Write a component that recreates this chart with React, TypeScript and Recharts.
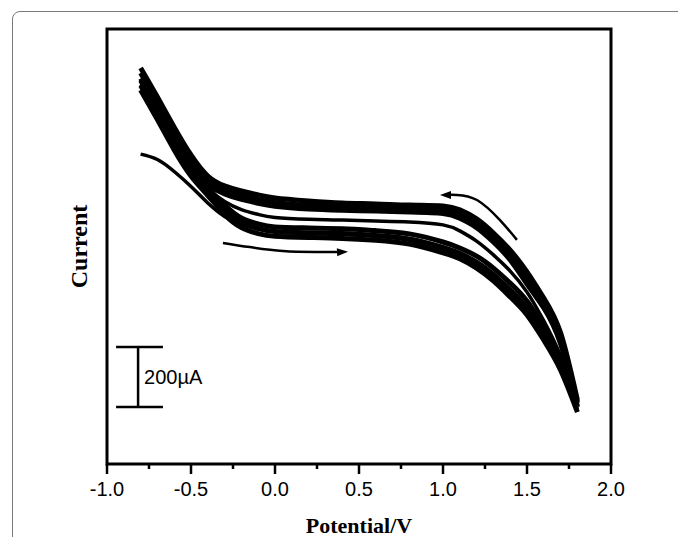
import React from "react";
import { LineChart, Line, XAxis, YAxis, ReferenceLine, ReferenceArea, Label } from "recharts";

// potential grid (V) shared by every scan branch
const potentials = [-0.8, -0.7, -0.6, -0.5, -0.4, -0.3, -0.2, -0.1, 0.0, 0.2, 0.4, 0.6, 0.8, 1.0, 1.1, 1.2, 1.3, 1.4, 1.5, 1.6, 1.7, 1.8];

// reverse scans (upper band), current in µA
const reverse1 = [420, 323, 223, 130, 60, 27, 10, -3, -13, -23, -30, -33, -37, -40, -53, -83, -130, -187, -260, -347, -463, -687];
const reverse2 = [403, 307, 207, 113, 47, 13, -5, -18, -28, -38, -42, -45, -48, -52, -67, -97, -143, -203, -280, -362, -480, -697];
const reverse3 = [385, 290, 190, 97, 33, 0, -18, -31, -41, -50, -54, -57, -60, -65, -81, -112, -160, -220, -300, -380, -500, -710];
const reverseMid = [365, 268, 170, 80, 17, -25, -52, -68, -78, -84, -87, -90, -93, -103, -123, -157, -203, -257, -327, -423, -540, -697];

// forward scans (lower band)
const forward1 = [378, 280, 178, 85, 20, -37, -80, -100, -110, -113, -116, -122, -133, -160, -180, -207, -247, -297, -357, -443, -547, -693];
const forward2 = [362, 264, 162, 72, 8, -52, -95, -115, -125, -129, -132, -138, -150, -178, -198, -227, -268, -320, -380, -463, -567, -707];
const forward3 = [347, 248, 147, 60, -5, -68, -112, -132, -141, -145, -148, -154, -167, -196, -216, -247, -290, -343, -403, -487, -587, -727];
const firstScan = [133, 115, 75, 25, -30, -75, -102, -116, -125, -131, -135, -141, -154, -184, -204, -234, -277, -328, -388, -470, -575, -717];

// scan direction arrows
const arrowLowX = [-0.31, -0.149, 0.048, 0.238, 0.405];
const arrowLowY = [-163, -177, -190, -193, -193];
const arrowHighX = [1.012, 1.083, 1.202, 1.339, 1.44];
const arrowHighY = [-3, -3, -20, -87, -153];

const xTicks = [-1, -0.75, -0.5, -0.25, 0, 0.25, 0.5, 0.75, 1, 1.25, 1.5, 1.75, 2];

// 200 µA scale bar
const barX = -0.815;
const barCapX = [-0.946, -0.667];
const barY = [-510, -710];

const bandCurves = [reverse1, reverse2, reverse3, forward1, forward2, forward3];
const thinCurves = [reverseMid, firstScan];

const toRows = (xs: number[], ys: number[]) => xs.map((x, i) => ({ x, y: ys[i] }));

const SANS = "'Liberation Sans', Arial, sans-serif";
const SERIF = "'Liberation Serif', 'Times New Roman', serif";

function PotentialTick(props: any) {
  const { x, y, payload } = props;
  const v = payload.value as number;
  const major = Math.abs(v * 2 - Math.round(v * 2)) < 1e-6;
  return (
    <g>
      <line x1={x} y1={y} x2={x} y2={y + (major ? 10 : 5)} stroke="#000" strokeWidth={2.5} />
      {major && (
        <text x={x} y={y + 32} textAnchor="middle" fontFamily={SANS} fontSize={20} fill="#000">
          {v.toFixed(1)}
        </text>
      )}
    </g>
  );
}

function arrowHead(headIndex: number, angle: number) {
  return (p: any) => {
    if (p.index !== headIndex) return <g key={p.index} />;
    const { cx, cy } = p;
    return (
      <polygon
        key={p.index}
        points={`${cx + 5},${cy} ${cx - 6},${cy - 4} ${cx - 6},${cy + 4}`}
        transform={`rotate(${angle} ${cx} ${cy})`}
        fill="#000"
      />
    );
  };
}

export default function App() {
  return (
    <div style={{ position: "absolute", left: 0, top: 0, width: 678, height: 537, overflow: "hidden", background: "#fff" }}>
      <div
        style={{
          position: "absolute",
          left: 12,
          top: 11,
          width: 700,
          height: 600,
          border: "1px solid #7a7a7a",
          borderTopLeftRadius: 8,
        }}
      />
      <LineChart
        width={678}
        height={537}
        margin={{ top: 29, right: 67, bottom: 0, left: 49 }}
        style={{ position: "absolute", left: 0, top: 0 }}
      >
        <XAxis
          type="number"
          dataKey="x"
          domain={[-1, 2]}
          ticks={xTicks}
          interval={0}
          axisLine={false}
          tickLine={false}
          tickSize={0}
          tickMargin={0}
          tick={<PotentialTick />}
          height={73}
          allowDataOverflow
        >
          <Label
            value="Potential/V"
            position="insideBottom"
            offset={4}
            fill="#000"
            fontFamily={SERIF}
            fontWeight="bold"
            fontSize={22}
          />
        </XAxis>
        <YAxis
          type="number"
          domain={[-900, 550]}
          width={58}
          tick={false}
          tickLine={false}
          axisLine={false}
          allowDataOverflow
        >
          <Label
            value="Current"
            angle={-90}
            position="center"
            fill="#000"
            fontFamily={SERIF}
            fontWeight="bold"
            fontSize={24}
          />
        </YAxis>
        <ReferenceArea x1={-1} x2={2} y1={-900} y2={550} fill="none" stroke="#000" strokeWidth={3} />
        {bandCurves.map((c, i) => (
          <Line
            key={`b${i}`}
            data={toRows(potentials, c)}
            dataKey="y"
            type="natural"
            stroke="#000"
            strokeWidth={5}
            dot={false}
            activeDot={false}
            isAnimationActive={false}
          />
        ))}
        {thinCurves.map((c, i) => (
          <Line
            key={`t${i}`}
            data={toRows(potentials, c)}
            dataKey="y"
            type="natural"
            stroke="#000"
            strokeWidth={3.5}
            dot={false}
            activeDot={false}
            isAnimationActive={false}
          />
        ))}
        <Line
          data={toRows(arrowLowX, arrowLowY)}
          dataKey="y"
          type="natural"
          stroke="#000"
          strokeWidth={2.5}
          dot={arrowHead(arrowLowX.length - 1, -3)}
          activeDot={false}
          isAnimationActive={false}
        />
        <Line
          data={toRows(arrowHighX, arrowHighY)}
          dataKey="y"
          type="natural"
          stroke="#000"
          strokeWidth={2.5}
          dot={arrowHead(0, 180)}
          activeDot={false}
          isAnimationActive={false}
        />
        <ReferenceLine
          segment={[{ x: barX, y: barY[0] }, { x: barX, y: barY[1] }]}
          stroke="#000"
          strokeWidth={2.5}
        >
          <Label value="200µA" position="right" offset={6} fill="#000" fontFamily={SANS} fontSize={20} />
        </ReferenceLine>
        {barY.map((y) => (
          <ReferenceLine
            key={y}
            segment={[{ x: barCapX[0], y }, { x: barCapX[1], y }]}
            stroke="#000"
            strokeWidth={2.5}
          />
        ))}
      </LineChart>
    </div>
  );
}
